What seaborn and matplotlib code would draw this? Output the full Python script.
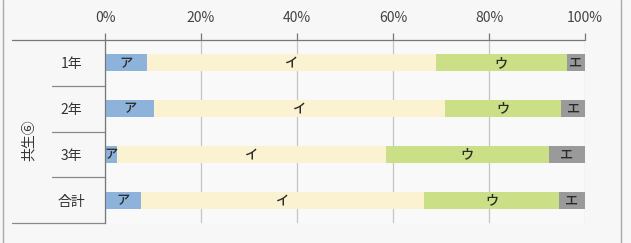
import matplotlib
matplotlib.use("Agg")
import matplotlib.pyplot as plt
import seaborn as sns
import numpy as np
import pandas as pd
from matplotlib.lines import Line2D

categories = ["1年", "2年", "3年", "合計"]
segments = ["ア", "イ", "ウ", "エ"]
val_a = [8.7, 10.3, 2.6, 7.6]
val_i = [60.2, 60.5, 55.9, 58.9]
val_u = [27.3, 24.3, 33.9, 28.1]
val_e = [3.8, 4.9, 7.6, 5.4]
group_label = "共生⑥"
xticks = [0, 20, 40, 60, 80, 100]
xtick_labels = ["0%", "20%", "40%", "60%", "80%", "100%"]
colors = ["#8db3da", "#fbf2d2", "#cadf86", "#9a9a9a"]

sns.set_theme(style="white")
plt.rcParams["font.family"] = ["Noto Sans CJK JP", "DejaVu Sans"]

df = pd.DataFrame({"cat": categories, "ア": val_a, "イ": val_i, "ウ": val_u, "エ": val_e})
cum = df[segments].cumsum(axis=1)

fig = plt.figure(figsize=(6.31, 2.43), dpi=100, facecolor="#f7f7f7")
ax = fig.add_axes([105/631, 20/243, 480/631, 183/243])
ax.set_facecolor("#f9f9f9")

# gridlines under bars
for xt in xticks:
    ax.axvline(xt, color="#c4c4c4", lw=0.9, zorder=0)

for seg, col in reversed(list(zip(segments, colors))):
    sns.barplot(x=cum[seg], y=df["cat"], orient="h", color=col, width=0.37,
                saturation=1, ax=ax, zorder=2, linewidth=0)

# segment labels
for i, cat in enumerate(categories):
    left = 0
    for seg in segments:
        v = df.loc[i, seg]
        ax.text(left + v / 2, i, seg, ha="center", va="center", fontsize=9.5,
                fontweight="medium", color="#2a2a2a", zorder=3)
        left += v

ax.set_xlim(0, 100)
ax.set_ylim(3.5, -0.5)
ax.set_xlabel("")
ax.set_ylabel("")
ax.xaxis.tick_top()
ax.set_xticks(xticks)
ax.set_xticklabels(xtick_labels)
ax.tick_params(axis="x", direction="out", length=5, width=0.9, color="#777777",
               pad=6, labelsize=10, labelcolor="#444444", top=True, bottom=False)
ax.tick_params(axis="y", length=0, pad=24, labelsize=10, labelcolor="#333333")
for lab in ax.get_yticklabels():
    lab.set_ha("center")

for s in ["bottom", "right"]:
    ax.spines[s].set_visible(False)
ax.spines["left"].set_color("#777777")
ax.spines["left"].set_linewidth(0.9)
ax.spines["top"].set_visible(False)

# top line and left table lines
ax.axhline(-0.5, xmin=-0.194, xmax=1.0, color="#777777", lw=0.9, clip_on=False)
for yb in [0.5, 1.5, 2.5]:
    ax.axhline(yb, xmin=-0.11, xmax=0.0, color="#888888", lw=0.9, clip_on=False)
ax.axhline(3.5, xmin=-0.194, xmax=0.0, color="#888888", lw=0.9, clip_on=False)

ax.text(-0.158, 0.45, group_label, transform=ax.transAxes, rotation=90,
        ha="center", va="center", fontsize=10, color="#333333")

# outer frame lines
fig.add_artist(Line2D([3/631, 3/631], [0, 1], color="#aaaaaa", lw=1))
fig.add_artist(Line2D([621/631, 621/631], [0, 1], color="#aaaaaa", lw=1))

fig.savefig("out.png", dpi=100, facecolor=fig.get_facecolor())
